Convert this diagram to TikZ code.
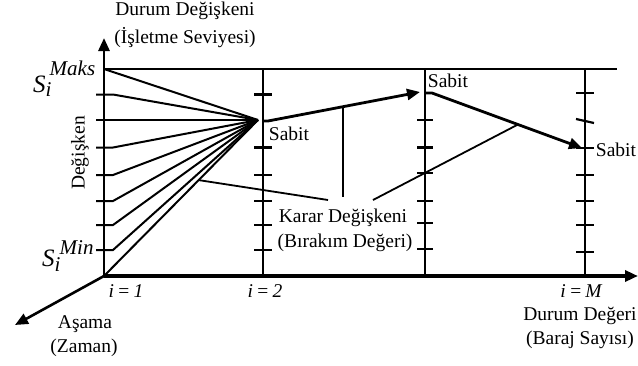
\documentclass[tikz,border=0pt]{standalone}
\usepackage{fontspec}
\setmainfont{Liberation Serif}
\usetikzlibrary{arrows.meta}
\newcommand{\sbig}{\fontsize{25}{27}\selectfont\itshape}
\newcommand{\ssmall}{\fontsize{21}{23}\selectfont\itshape}
\begin{document}
\begin{tikzpicture}[x=1pt,y=-1pt,
  lbl/.style={inner sep=0pt, font=\fontsize{19.5}{22}\selectfont},
  ilbl/.style={inner sep=0pt, font=\fontsize{19.5}{22}\selectfont\itshape},
  vaxis/.style={line width=2.8pt},
  haxis/.style={line width=3.6pt},
  gridline/.style={line width=2.2pt},
  fan/.style={line width=2pt},
  tickmark/.style={line width=2.2pt},
  ptr/.style={line width=1.8pt},
  tri/.style={-{Triangle[length=13pt,width=11pt]}},
  flow/.style={line width=2.8pt, -{Triangle[length=13pt,width=11pt]}}
]
\useasboundingbox (0,0) rectangle (638,365);

% key points
\coordinate (O) at (104,276);
\coordinate (Ytip) at (104,38);
\coordinate (Xtip) at (638,276);
\coordinate (Ztip) at (15,325);
\coordinate (Mx) at (104,69);
\coordinate (TopR) at (617,69);
\coordinate (C) at (258,120);

% top line and vertical stage lines
\draw[gridline] (Mx) -- (TopR);
\foreach \x/\n in {263/two,425/three,585/four}{
  \coordinate (\n top) at (\x,69);
  \coordinate (\n bot) at (\x,276);
  \draw[gridline] (\n top) -- (\n bot);
}

% ticks on i=1 axis and fan lines
\foreach \y [count=\k] in {94.5,147.5,175,201,225,250}{
  \coordinate (lt\k) at (96,\y);
  \coordinate (lk\k) at (113,\y);
  \draw[fan] (lt\k) -- (lk\k) -- (C);
}
\coordinate (l120) at (96,120);
\draw[fan] (l120) -- (C);
\draw[fan] (Mx) -- (C);
\draw[fan] (O) -- (C);

% ticks on i=2
\foreach \y [count=\k] in {94.5,147.5,175,201,225,250}{
  \coordinate (ta\k) at (254,\y);
  \coordinate (tb\k) at (272,\y);
  \draw[tickmark] (ta\k) -- (tb\k);
}
% ticks on third line
\foreach \y [count=\k] in {120,147.5,173,201,223,249}{
  \coordinate (tc\k) at (417,\y);
  \coordinate (td\k) at (433,\y);
  \draw[tickmark] (tc\k) -- (td\k);
}
% ticks on i=M
\foreach \y [count=\k] in {93,148,175,201,225,252}{
  \coordinate (te\k) at (576,\y);
  \coordinate (tf\k) at (594,\y);
  \draw[tickmark] (te\k) -- (tf\k);
}
\coordinate (sl1) at (576,119);
\coordinate (sl2) at (594,123);
\draw[tickmark] (sl1) -- (sl2);

% axes
\draw[vaxis, tri] (O) -- (Ytip);
\draw[haxis, tri] (O) -- (Xtip);
\draw[line width=2.6pt, tri] (O) -- (Ztip);

% flow arrows
\coordinate (A1s) at (263,121);
\coordinate (A1b) at (268,121);
\coordinate (A1e) at (420,92);
\coordinate (A2s) at (425,93);
\coordinate (A2b) at (432,93);
\coordinate (A2e) at (582,148);
\draw[flow] (A1s) -- (A1b) -- (A1e);
\draw[flow] (A2s) -- (A2b) -- (A2e);

% pointer lines
\coordinate (P1a) at (198,180);
\coordinate (P1b) at (328,200);
\coordinate (P2a) at (343,106.5);
\coordinate (P2b) at (343,197);
\coordinate (P3a) at (373,200);
\coordinate (P3b) at (517,125);
\draw[ptr] (P1a) -- (P1b);
\draw[ptr] (P2a) -- (P2b);
\draw[ptr] (P3a) -- (P3b);

% labels
\node[lbl] (t1) at (185,11) {Durum Değişkeni};
\node[lbl] (t2) at (185,38) {(İşletme Seviyesi)};
\node[lbl, rotate=90] (dg) at (80,153) {Değişken};

\node[inner sep=0pt, anchor=base west] (smx) at (33,92)
  {\sbig S\ssmall\rlap{\raisebox{-4pt}{i}}\hspace{4pt}\raisebox{17pt}{Maks}};
\node[inner sep=0pt, anchor=base west] (smn) at (42,266)
  {\sbig S\ssmall\rlap{\raisebox{-5pt}{i}}\hspace{5pt}\raisebox{12pt}{Min}};

\node[lbl] (sb1) at (289,134) {Sabit};
\node[lbl] (sb2) at (448,81) {Sabit};
\node[lbl] (sb3) at (616,150) {Sabit};

\node[lbl] (k1) at (343,218) {Karar Değişkeni};
\node[lbl] (k2) at (345,243) {(Bırakım Değeri)};

\node[ilbl] (i1) at (126,291) {i\,=\,1};
\node[ilbl] (i2) at (265,291) {i\,=\,2};
\node[ilbl] (iM) at (581,291) {i\,=\,M};

\node[lbl] (d1) at (580,316) {Durum Değeri};
\node[lbl] (d2) at (580,340) {(Baraj Sayısı)};

\node[lbl] (a1) at (85,324) {Aşama};
\node[lbl] (a2) at (84,348) {(Zaman)};
\end{tikzpicture}
\end{document}
